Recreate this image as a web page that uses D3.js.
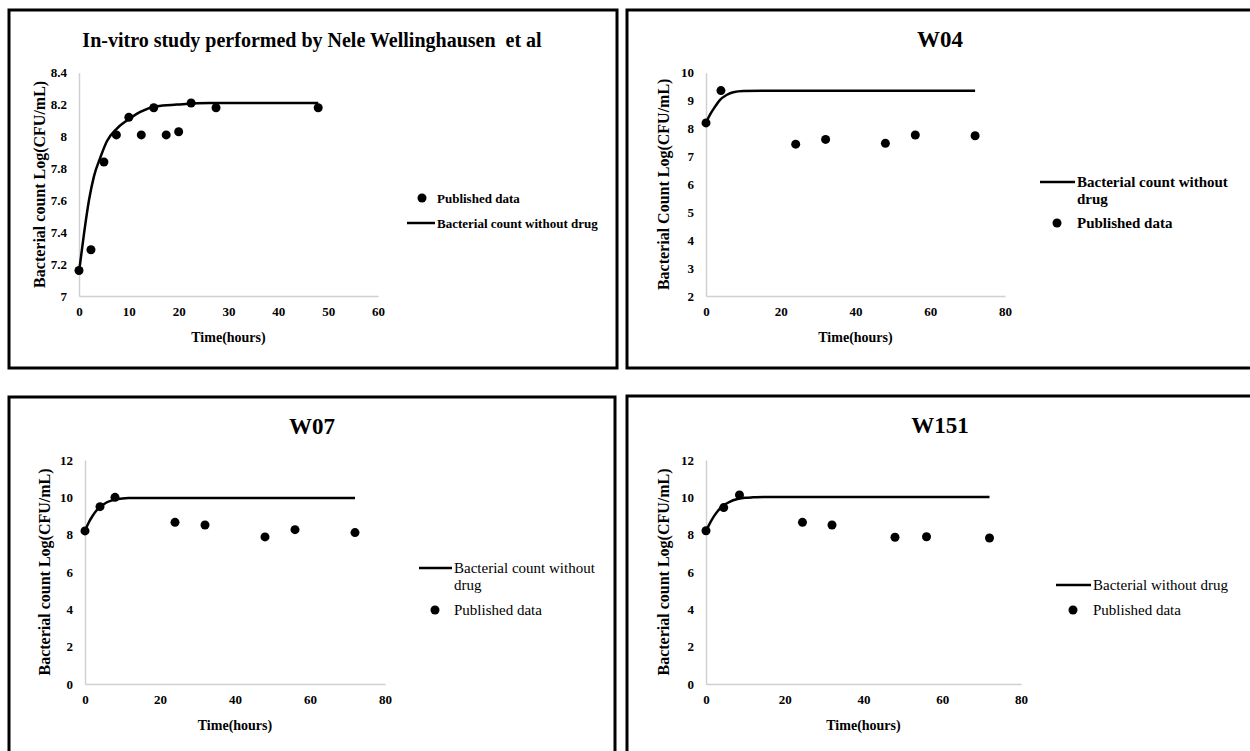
<!DOCTYPE html>
<html>
<head>
<meta charset="utf-8">
<script src="https://cdn.jsdelivr.net/npm/d3@7"></script>
<style>
	body { margin: 0; background: #fff; }
	svg { display: block; font-family: "Liberation Serif", "Times New Roman", serif; }
	svg .tick text { font-family: "Liberation Serif", "Times New Roman", serif; font-weight: bold; font-size: 13px; fill: #000; }
</style>
</head>
<body>
<svg id="chart" width="1250" height="751"></svg>
<script>
// ---- data ----
// Nele Wellinghausen et al
const wellTime = [0, 2.4, 5, 7.5, 10, 12.5, 15, 17.5, 20, 22.5, 27.5, 48];
const wellCount = [7.16, 7.29, 7.84, 8.01, 8.12, 8.01, 8.18, 8.01, 8.03, 8.21, 8.18, 8.18];
const wellFitTime = [0, 1, 2, 3, 4.3, 5.6, 7.6, 9.6, 12.3, 15.6, 19.6, 26.3, 48];
const wellFitCount = [7.15, 7.39, 7.6, 7.75, 7.87, 7.97, 8.05, 8.1, 8.155, 8.19, 8.2, 8.21, 8.21];

// W04
const w04Time = [0, 4, 24, 32, 48, 56, 72];
const w04Count = [8.2, 9.36, 7.44, 7.61, 7.47, 7.77, 7.74];
const w04FitTime = [0, 1, 2.4, 3.7, 5.5, 7.3, 10, 15, 72];
const w04FitCount = [8.2, 8.48, 8.78, 9.02, 9.2, 9.3, 9.34, 9.35, 9.35];

// W07
const w07Time = [0, 4, 8, 24, 32, 48, 56, 72];
const w07Count = [8.2, 9.5, 10.0, 8.66, 8.52, 7.88, 8.27, 8.11];
const w07FitTime = [0, 1, 2, 3, 4, 5, 6, 8, 10, 12, 15, 72];
const w07FitCount = [8.2, 8.65, 9.0, 9.28, 9.48, 9.63, 9.75, 9.88, 9.94, 9.96, 9.97, 9.97];

// W151
const w151Time = [0, 4.5, 8.5, 24.5, 32, 48, 56, 72];
const w151Count = [8.21, 9.45, 10.13, 8.66, 8.52, 7.86, 7.89, 7.82];
const w151FitTime = [0, 1, 2, 3, 4, 5, 6, 8, 10, 12, 15, 72];
const w151FitCount = [8.2, 8.62, 8.98, 9.27, 9.48, 9.64, 9.76, 9.91, 9.98, 10.0, 10.02, 10.02];

// tick labels
const wellXTicks = [0, 10, 20, 30, 40, 50, 60];
const wellYTicks = [7, 7.2, 7.4, 7.6, 7.8, 8, 8.2, 8.4];
const strainXTicks = [0, 20, 40, 60, 80];
const w04YTicks = [2, 3, 4, 5, 6, 7, 8, 9, 10];
const w07YTicks = [0, 2, 4, 6, 8, 10, 12];

const zip = (xs, ys) => xs.map((x, i) => ({t: x, v: ys[i]}));

const panels = [
	{
		title: 'In-vitro study performed by Nele Wellinghausen\u00a0\u00a0et al',
		titleX: 312, titleSize: 20,
		frame: [9, 10, 608, 358],
		plot: {left: 79, right: 378, top: 72.7, bottom: 296},
		xDomain: [0, 60], yDomain: [7, 8.4],
		xTicks: wellXTicks, yTicks: wellYTicks,
		yLabel: 'Bacterial count Log(CFU/mL)', yLabelX: 39.5,
		points: zip(wellTime, wellCount), fit: zip(wellFitTime, wellFitCount),
		legendBold: true, legendSize: 13,
		legend: [
			{kind: 'dot', x: 422, y: 198, lines: ['Published data']},
			{kind: 'line', x: 407, y: 223, lines: ['Bacterial count without drug']}
		],
		textX: 437
	},
	{
		title: 'W04',
		titleX: 940, titleSize: 23,
		frame: [627, 10, 700, 358],
		plot: {left: 706, right: 1005, top: 72.7, bottom: 296},
		xDomain: [0, 80], yDomain: [2, 10],
		xTicks: strainXTicks, yTicks: w04YTicks,
		yLabel: 'Bacterial Count Log(CFU/mL)', yLabelX: 663,
		points: zip(w04Time, w04Count), fit: zip(w04FitTime, w04FitCount),
		legendBold: true, legendSize: 15,
		legend: [
			{kind: 'line', x: 1040, y: 182, lines: ['Bacterial count without', 'drug']},
			{kind: 'dot', x: 1057, y: 223, lines: ['Published data']}
		],
		textX: 1077
	},
	{
		title: 'W07',
		titleX: 312, titleSize: 23,
		frame: [9, 397, 606, 400],
		plot: {left: 85, right: 385, top: 460, bottom: 684},
		xDomain: [0, 80], yDomain: [0, 12],
		xTicks: strainXTicks, yTicks: w07YTicks,
		yLabel: 'Bacterial count Log(CFU/mL)', yLabelX: 44,
		points: zip(w07Time, w07Count), fit: zip(w07FitTime, w07FitCount),
		legendBold: false, legendSize: 15,
		legend: [
			{kind: 'line', x: 419, y: 568, lines: ['Bacterial count without', 'drug']},
			{kind: 'dot', x: 435, y: 610, lines: ['Published data']}
		],
		textX: 454
	},
	{
		title: 'W151',
		titleX: 940, titleSize: 23,
		frame: [627, 396, 700, 400],
		plot: {left: 706, right: 1021, top: 460, bottom: 684},
		xDomain: [0, 80], yDomain: [0, 12],
		xTicks: strainXTicks, yTicks: w07YTicks,
		yLabel: 'Bacterial count Log(CFU/mL)', yLabelX: 663,
		points: zip(w151Time, w151Count), fit: zip(w151FitTime, w151FitCount),
		legendBold: false, legendSize: 15,
		legend: [
			{kind: 'line', x: 1056, y: 585, lines: ['Bacterial without drug']},
			{kind: 'dot', x: 1073, y: 610, lines: ['Published data']}
		],
		textX: 1093
	}
];

const svg = d3.select('#chart');

function drawPanel(p) {
	const g = svg.append('g');
	const [fx, fy, fw, fh] = p.frame;

	g.append('rect')
	.attr('x', fx).attr('y', fy).attr('width', fw).attr('height', fh)
	.attr('fill', 'none').attr('stroke', '#000').attr('stroke-width', 3);

	const x = d3.scaleLinear().domain(p.xDomain).range([p.plot.left, p.plot.right]);
	const y = d3.scaleLinear().domain(p.yDomain).range([p.plot.bottom, p.plot.top]);

	// axes: grey domain line, no tick marks
	const xAxis = g.append('g')
	.attr('transform', `translate(0,${p.plot.bottom})`)
	.call(d3.axisBottom(x).tickValues(p.xTicks).tickSize(0).tickPadding(11).tickFormat(d3.format('d')));
	const yAxis = g.append('g')
	.attr('transform', `translate(${p.plot.left},0)`)
	.call(d3.axisLeft(y).tickValues(p.yTicks).tickSize(0).tickPadding(12).tickFormat((d)=>String(+d.toFixed(1))));
	[xAxis, yAxis].forEach((a)=>{
		a.attr('font-family', null).attr('font-size', null);
		a.select('.domain').attr('stroke', '#d0d0d0').attr('stroke-width', 1.5);
	});

	// title
	g.append('text')
	.attr('x', p.titleX)
	.attr('y', p.frame[1] + 37)
	.attr('text-anchor', 'middle')
	.attr('font-weight', 'bold').attr('font-size', p.titleSize)
	.text(p.title);

	// axis titles
	g.append('text')
	.attr('transform', `translate(${p.yLabelX},${(p.plot.top + p.plot.bottom) / 2}) rotate(-90)`)
	.attr('text-anchor', 'middle').attr('dominant-baseline', 'central')
	.attr('font-weight', 'bold').attr('font-size', 16)
	.text(p.yLabel);

	g.append('text')
	.attr('x', (p.plot.left + p.plot.right) / 2)
	.attr('y', p.plot.bottom + 41)
	.attr('text-anchor', 'middle').attr('dominant-baseline', 'central')
	.attr('font-weight', 'bold').attr('font-size', 14)
	.text('Time(hours)');

	// model curve
	const line = d3.line().x((d)=>x(d.t)).y((d)=>y(d.v)).curve(d3.curveMonotoneX);
	g.append('path')
	.datum(p.fit)
	.attr('d', line)
	.attr('fill', 'none').attr('stroke', '#000').attr('stroke-width', 2.5);

	// published data
	g.selectAll('circle.pt')
	.data(p.points)
	.enter()
	.append('circle')
	.attr('class', 'pt')
	.attr('cx', (d)=>x(d.t)).attr('cy', (d)=>y(d.v))
	.attr('r', 4.5).attr('fill', '#000');

	// legend
	p.legend.forEach((item)=>{
		if(item.kind == 'dot') {
			g.append('circle').attr('cx', item.x).attr('cy', item.y).attr('r', 4.5).attr('fill', '#000');
		}
		else {
			g.append('line')
			.attr('x1', item.x).attr('x2', p.textX - 2)
			.attr('y1', item.y).attr('y2', item.y)
			.attr('stroke', '#000').attr('stroke-width', 2.5);
		}
		const txt = g.append('text')
		.attr('font-weight', p.legendBold ? 'bold' : 'normal')
		.attr('font-size', p.legendSize);
		txt.selectAll('tspan')
		.data(item.lines)
		.enter()
		.append('tspan')
		.attr('x', p.textX)
		.attr('y', (d, i)=>item.y + i * 17)
		.attr('dominant-baseline', 'central')
		.text((d)=>d);
	});
}

panels.forEach(drawPanel);
</script>
</body>
</html>
